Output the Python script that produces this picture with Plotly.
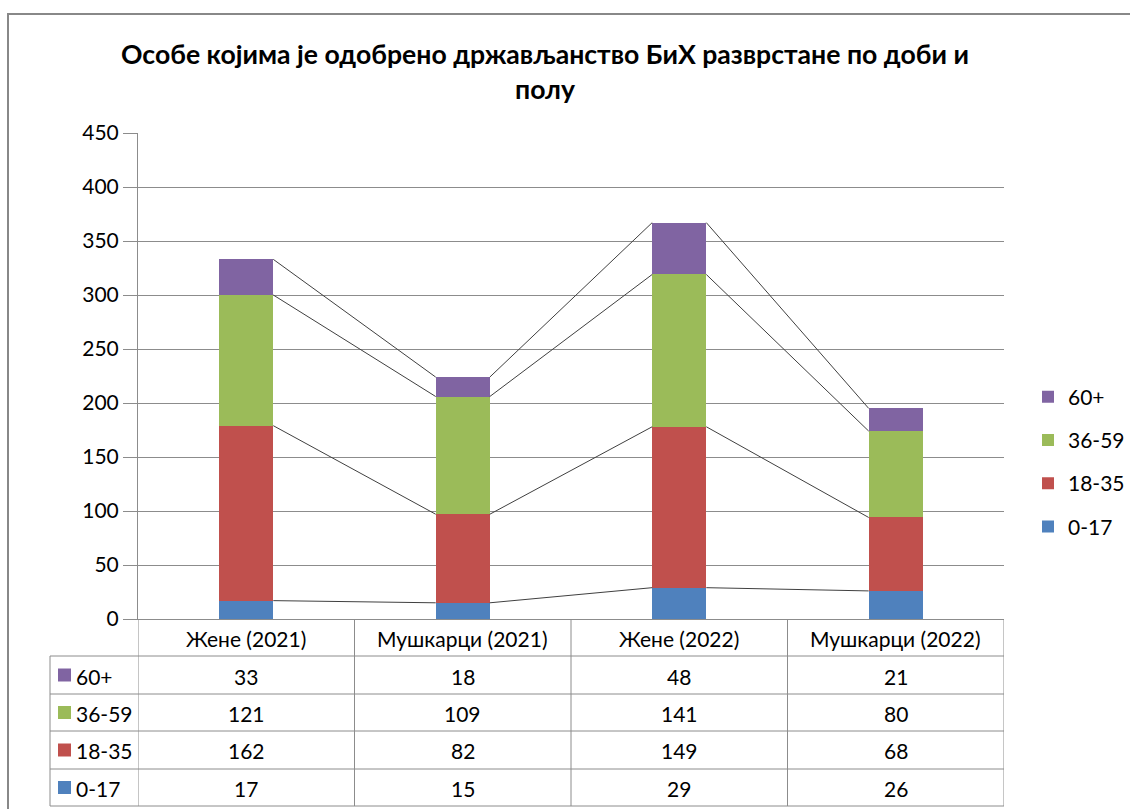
import plotly.graph_objects as go

# Data
categories = ["Жене (2021)", "Мушкарци (2021)", "Жене (2022)", "Мушкарци (2022)"]
groups = ["0-17", "18-35", "36-59", "60+"]
v_0_17 = [17, 15, 29, 26]
v_18_35 = [162, 82, 149, 68]
v_36_59 = [121, 109, 141, 80]
v_60p = [33, 18, 48, 21]
colors = ["#4F81BD", "#C0504D", "#9BBB59", "#8064A2"]
title_lines = ["Особе којима је одобрено држављанство БиХ разврстане по доби и", "полу"]

series = [v_0_17, v_18_35, v_36_59, v_60p]
FONT = "Lato, 'Open Sans', sans-serif"
TXT = 21

W, H = 1130, 809
L, R, T, B = 138, 1004, 133, 619
PW, PH = R - L, B - T


def px(x):
    return (x - L) / PW


def py(y):
    return (B - y) / PH


xs = list(range(len(categories)))
bar_w = 0.25

fig = go.Figure()
for k, (name, vals, col) in enumerate(zip(groups, series, colors)):
    fig.add_trace(go.Bar(
        x=xs, y=vals, name=name, width=bar_w,
        marker=dict(color=col, line=dict(width=0)),
        legendgroup=name, legendrank=len(groups) - k,
    ))

# Series lines joining the top of each stacked segment between columns
cum = [0] * len(categories)
for vals in series:
    cum = [c + v for c, v in zip(cum, vals)]
    lx, ly = [], []
    for i in range(len(categories) - 1):
        lx += [xs[i] + bar_w / 2, xs[i + 1] - bar_w / 2, None]
        ly += [cum[i], cum[i + 1], None]
    fig.add_trace(go.Scatter(
        x=lx, y=ly, mode="lines", showlegend=False, hoverinfo="skip",
        line=dict(color="#404040", width=1),
    ))

shapes = []
annotations = []
grid_col = "#8C8C8C"


def label(x, y, text, xref="paper", xanchor="center", size=TXT, bold=False):
    annotations.append(dict(
        x=x, y=y, xref=xref, yref="paper", xanchor=xanchor, yanchor="middle",
        text=("<b>%s</b>" % text) if bold else text, showarrow=False,
        font=dict(size=size, color="#000", family=FONT)))


# outer frame
shapes.append(dict(type="rect", xref="paper", yref="paper",
                   x0=px(8), x1=px(1160), y0=py(14), y1=py(840),
                   line=dict(color="#888888", width=2), layer="below"))

# table grid
row_edges = [656, 694, 731, 769, 806]
for y in row_edges:
    shapes.append(dict(type="line", xref="paper", yref="paper",
                       x0=px(50), x1=px(R), y0=py(y), y1=py(y),
                       line=dict(color=grid_col, width=1)))
shapes.append(dict(type="line", xref="paper", yref="paper",
                   x0=px(50), x1=px(50), y0=py(656), y1=py(806),
                   line=dict(color=grid_col, width=1)))
for k in range(len(categories) + 1):
    shapes.append(dict(type="line", xref="x", yref="paper",
                       x0=k - 0.5, x1=k - 0.5, y0=py(B), y1=py(806),
                       line=dict(color=grid_col, width=1)))

# header labels
for i, c in enumerate(categories):
    label(xs[i], py(638), c, xref="x")

# table rows (top row = last group)
row_order = list(range(len(groups)))[::-1]
for r, gi in enumerate(row_order):
    yc = (row_edges[r] + row_edges[r + 1]) / 2
    shapes.append(dict(type="rect", xref="paper", yref="paper",
                       x0=px(58), x1=px(71), y0=py(yc - 6.5), y1=py(yc + 6.5),
                       fillcolor=colors[gi], line=dict(width=0)))
    label(px(74), py(yc + 1), groups[gi], xanchor="left")
    for i in range(len(categories)):
        label(xs[i], py(yc + 1), str(series[gi][i]), xref="x")

# title
label(px(545), py(54), title_lines[0], size=26.6, bold=True)
label(px(545), py(89), title_lines[1], size=26.6, bold=True)

fig.update_layout(
    width=W, height=H,
    margin=dict(l=L, r=W - R, t=T, b=H - B, pad=0, autoexpand=False),
    paper_bgcolor="white", plot_bgcolor="white",
    barmode="stack", bargap=0,
    shapes=shapes, annotations=annotations,
    showlegend=True,
    legend=dict(x=px(1028), y=py(462), xanchor="left", yanchor="middle",
                traceorder="grouped", tracegroupgap=13,
                font=dict(size=TXT, color="#000", family=FONT),
                itemwidth=30, bgcolor="rgba(0,0,0,0)"),
    font=dict(family=FONT, color="#000"),
)
fig.update_xaxes(range=[-0.5, len(categories) - 0.5], showticklabels=False,
                 showgrid=False, zeroline=False, showline=True,
                 linecolor=grid_col, linewidth=1, fixedrange=True)
fig.update_yaxes(range=[0, 450], dtick=50, showgrid=True, gridcolor=grid_col,
                 gridwidth=1, zeroline=False, showline=True, linecolor=grid_col,
                 linewidth=1, ticks="outside", ticklen=14, tickcolor=grid_col,
                 tickfont=dict(size=TXT, color="#000", family=FONT),
                 fixedrange=True)

fig.write_html("out.html")
